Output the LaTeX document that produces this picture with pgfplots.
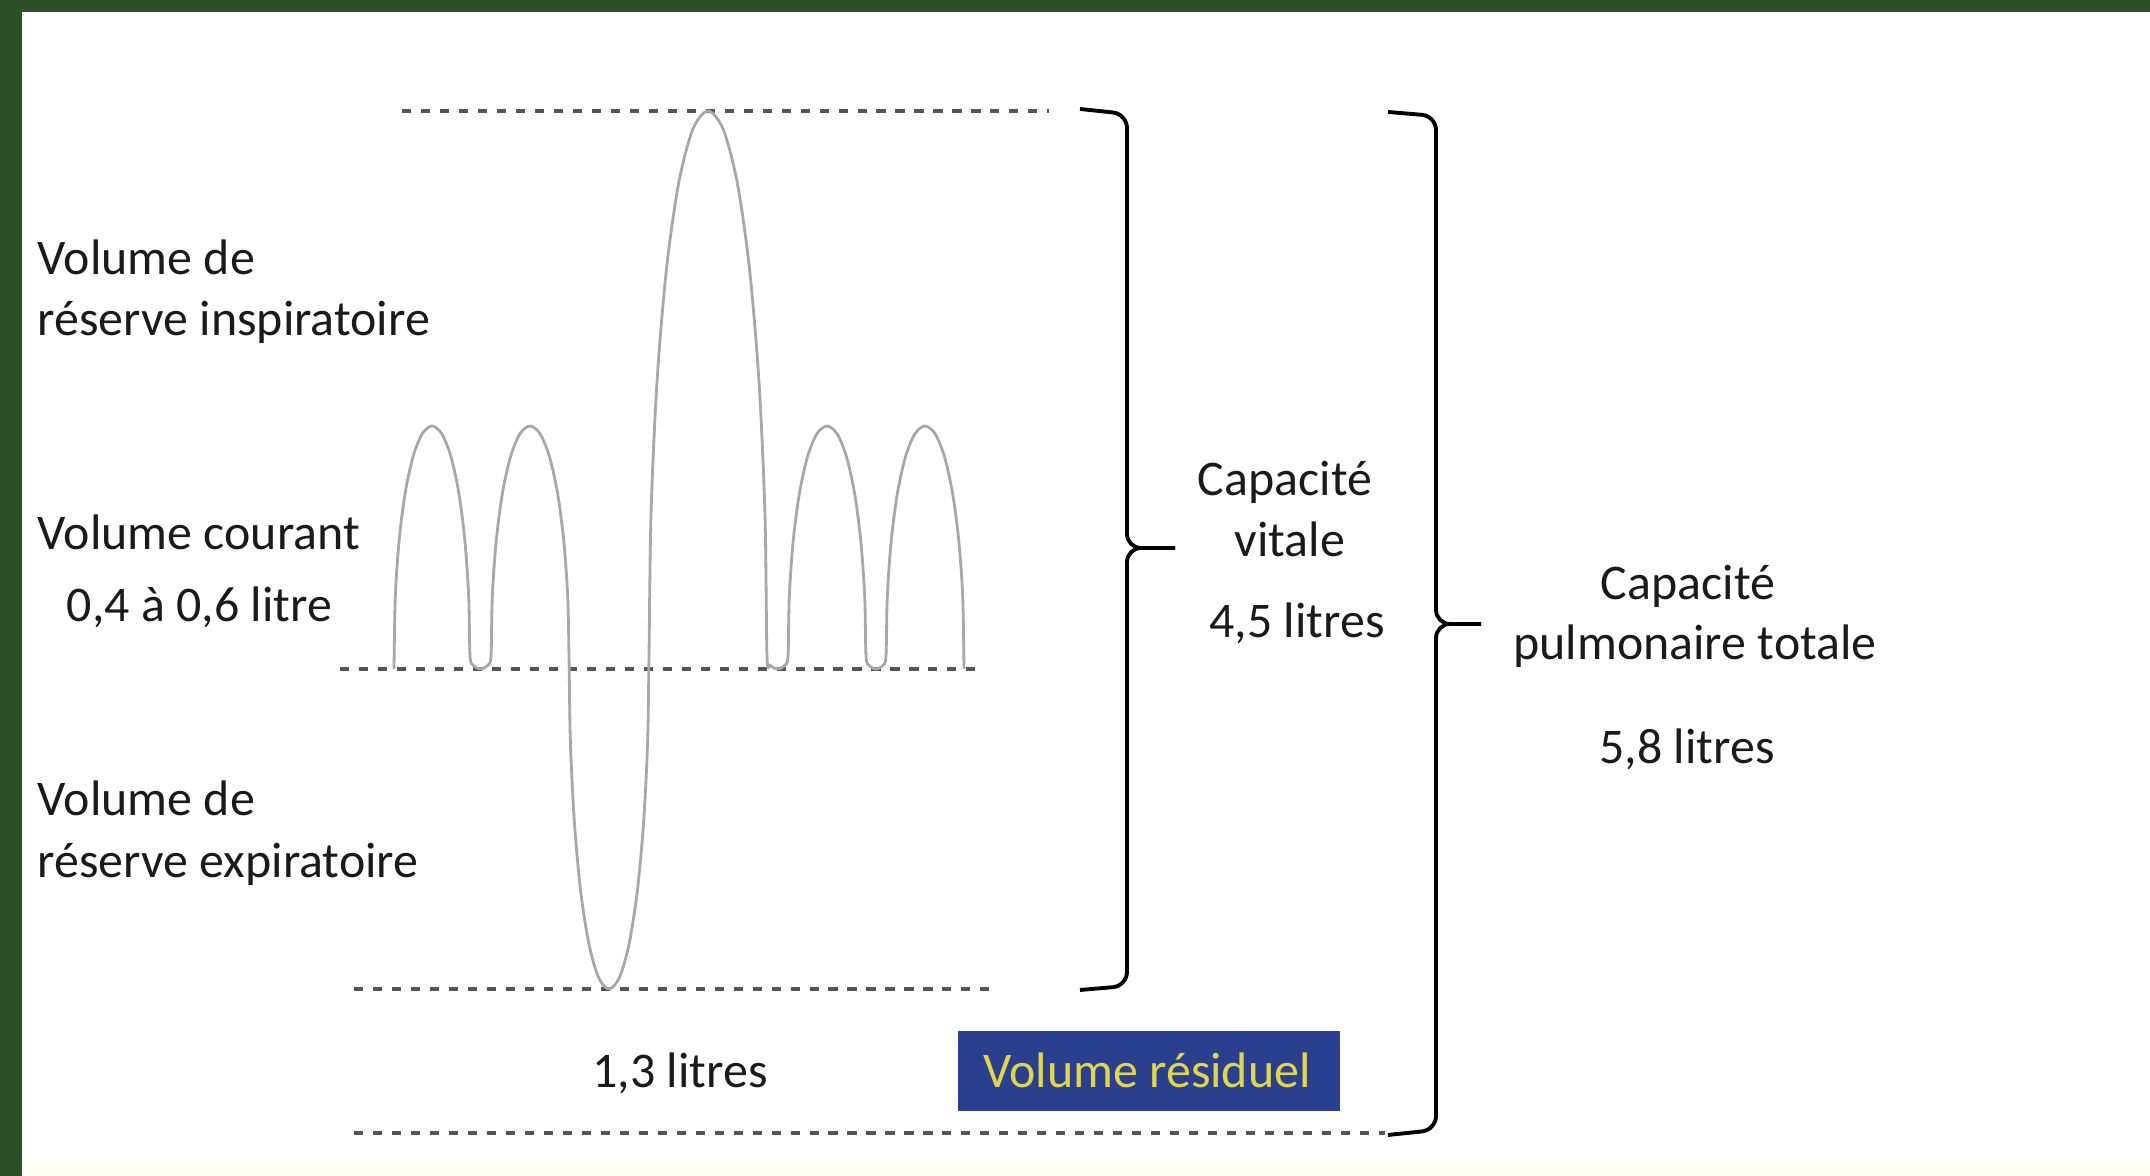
\documentclass[border=0pt]{standalone}
\usepackage{pgfplots}
\pgfplotsset{compat=1.18}
\usepackage{fontspec}
\setmainfont{Carlito}
\definecolor{bordergreen}{HTML}{2D5028}
\definecolor{wave}{HTML}{A8A8A8}
\definecolor{dashgray}{HTML}{555555}
\definecolor{boxblue}{HTML}{2A3F8E}
\definecolor{boxtext}{HTML}{E2D54E}
\definecolor{txt}{HTML}{1A1A1A}
\definecolor{cream}{HTML}{FFFEF4}
\begin{document}
\begin{tikzpicture}
\begin{axis}[width=21.5cm,height=11.76cm,scale only axis,
  xmin=0,xmax=2150,ymin=0,ymax=1176,hide axis,clip=false,
  every axis plot/.append style={no markers}]
% background and frame
\fill[cream] (axis cs:22,0) rectangle (axis cs:2150,14);
\fill[bordergreen] (axis cs:0,0) rectangle (axis cs:22,1176);
\fill[bordergreen] (axis cs:0,1164) rectangle (axis cs:2150,1176);

% dashed reference lines
\addplot[dashgray, line width=1.2pt, dash pattern=on 2.6pt off 2.8pt] coordinates {(402,1065) (1049,1065)};
\addplot[dashgray, line width=1.2pt, dash pattern=on 2.6pt off 2.8pt] coordinates {(340,507) (985,507)};
\addplot[dashgray, line width=1.2pt, dash pattern=on 2.6pt off 2.8pt] coordinates {(354,187) (998,187)};
\addplot[dashgray, line width=1.2pt, dash pattern=on 2.6pt off 2.8pt] coordinates {(354,43) (1385,43)};

% spirogram
\addplot[wave, line width=0.8pt, smooth] coordinates {
(394,507) (395.3,579.5) (399.1,635) (405.1,682.6) (413,719.2) (422.2,742.2) (432,750) (441.8,742.2) (451,719.2) (458.9,682.6) (464.9,635) (468.7,579.5) (470,520)
(473.1,510.8) (480.5,507) (487.9,510.8)
(491,520) (492.3,579.5) (496.2,635) (502.4,682.6) (510.5,719.2) (519.9,742.2) (530,750) (540.1,742.2) (549.5,719.2) (557.6,682.6) (563.8,635) (567.7,579.5) (569,520)
(570.4,433.8) (574.4,353.5) (580.7,284.5) (589,231.6) (598.6,198.4) (609,187) (619.4,198.4) (629,231.6) (637.3,284.5) (643.6,353.5) (647.6,433.8) (649,520)
(651,661) (656.9,792.5) (666.3,905.4) (678.5,992) (692.7,1046.4) (708,1065) (723.3,1046.4) (737.5,992) (749.7,905.4) (759.1,792.5) (765,661) (767,520)
(770.1,510.8) (777.5,507) (784.9,510.8)
(788,520) (789.3,579.5) (793.2,635) (799.4,682.6) (807.5,719.2) (816.9,742.2) (827,750) (837.1,742.2) (846.5,719.2) (854.6,682.6) (860.8,635) (864.7,579.5) (866,520)
(868.9,510.8) (876,507) (883.1,510.8)
(886,520) (887.3,579.5) (891.2,635) (897.4,682.6) (905.5,719.2) (914.9,742.2) (925,750) (935.1,742.2) (944.5,719.2) (952.6,682.6) (958.8,635) (962.7,579.5) (964,507)
};

% braces
\addplot[black, line width=1.1pt, rounded corners=4pt] coordinates {(1080,1067) (1127,1062) (1127,628) (1175,628)};
\addplot[black, line width=1.1pt, rounded corners=4pt] coordinates {(1080,186) (1127,190) (1127,628) (1175,628)};
\addplot[black, line width=1.1pt, rounded corners=4pt] coordinates {(1388,1064) (1436,1060) (1436,552) (1481,552)};
\addplot[black, line width=1.1pt, rounded corners=4pt] coordinates {(1388,41) (1436,46) (1436,552) (1481,552)};

% residual volume box
\fill[boxblue] (axis cs:958,65) rectangle (axis cs:1340,145);

% texts
\begin{scope}[every node/.style={inner sep=0pt, text=txt, font=\fontsize{14.2}{17}\selectfont}]
\node[anchor=base west] at (axis cs:37,901) {Volume de};
\node[anchor=base west] at (axis cs:37,840) {réserve inspiratoire};
\node[anchor=base west] at (axis cs:37,626) {Volume courant};
\node[anchor=base west] at (axis cs:66,554) {0,4 à 0,6 litre};
\node[anchor=base west] at (axis cs:37,360) {Volume de};
\node[anchor=base west] at (axis cs:37,298) {réserve expiratoire};
\node[anchor=base] at (axis cs:1285,680) {Capacité};
\node[anchor=base] at (axis cs:1290,619) {vitale};
\node[anchor=base] at (axis cs:1297,538) {4,5 litres};
\node[anchor=base] at (axis cs:1688,576) {Capacité};
\node[anchor=base] at (axis cs:1695,516) {pulmonaire totale};
\node[anchor=base] at (axis cs:1687,412) {5,8 litres};
\node[anchor=base] at (axis cs:680,88) {1,3 litres};
\node[anchor=base, text=boxtext] at (axis cs:1147,88) {Volume résiduel};
\end{scope}
\end{axis}
\end{tikzpicture}
\end{document}
